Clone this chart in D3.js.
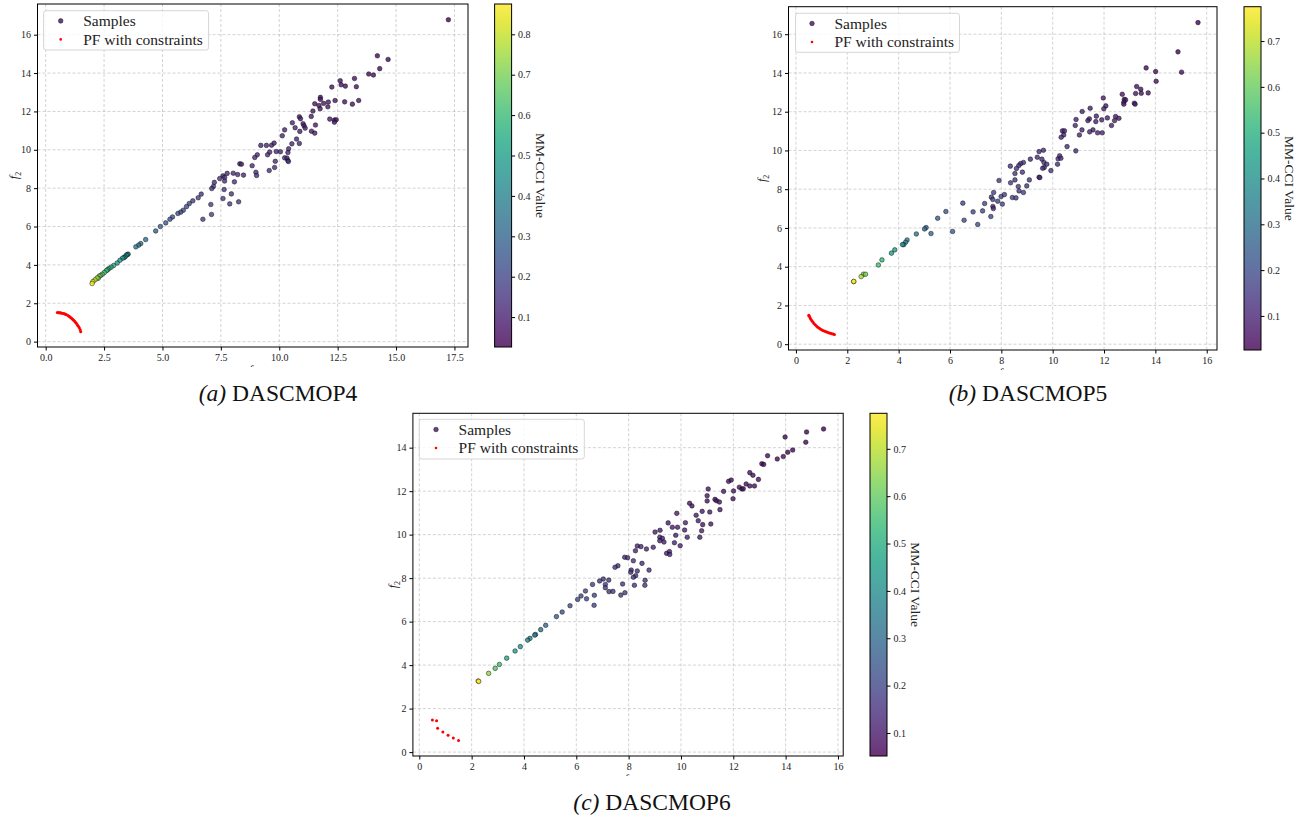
<!DOCTYPE html>
<html>
<head>
<meta charset="utf-8">
<script src="https://cdn.jsdelivr.net/npm/d3@7"></script>
<style>body{margin:0;background:#fff}</style>
</head>
<body>
<script>
// ---- DASCMOP4 (a)
const aF1 = [17.24,14.2,14.66,14.30,13.83,14.03,13.22,12.61,12.65,12.83,13.30,12.25,13.40,13.13,12.80,12.39,12.10,11.76,11.76,11.52,11.70,11.90,12.08,11.75,11.44,11.37,12.16,12.36,12.44,12.36,10.86,10.91,10.56,11.02,11.06,11.11,10.68,11.55,10.88,11.38,11.52,10.23,10.13,10.74,10.54,10.86,9.21,9.45,9.67,9.78,9.59,9.50,9.87,10.05,10.40,10.37,10.23,10.33,10.37,10.39,9.06,8.95,9.83,8.31,8.38,8.84,9.57,9.80,9.0,9.03,8.47,8.22,8.03,7.77,7.59,7.66,7.45,7.66,8.08,7.22,7.18,7.11,7.64,6.66,6.53,7.95,7.59,7.07,7.88,8.26,7.10,6.73,6.30,6.15,6.03,5.89,5.78,5.66,5.43,5.32,5.14,4.91,4.71,4.28,4.07,3.98,3.86,3.53,3.49,3.45,3.40,3.35,3.29,3.18,3.06,2.91,2.80,2.71,2.65,2.60,2.51,2.42,2.35,2.29,2.25,2.20,2.11,2.02,1.99];
const aF2 = [16.78,14.9,14.71,14.23,13.95,13.9,13.72,13.6,13.39,13.32,13.29,13.27,12.57,12.38,12.50,12.57,12.49,12.73,12.63,12.4,12.31,12.42,12.24,12.14,12.02,11.74,11.6,11.55,11.57,11.44,11.72,11.62,11.41,11.36,11.25,11.13,11.15,11.29,10.96,10.97,10.87,11.04,10.73,10.56,10.31,10.33,10.23,10.23,10.24,10.35,9.88,9.74,9.91,9.90,10.05,9.86,9.58,9.57,9.44,9.39,9.74,9.60,9.40,9.27,9.25,9.17,8.92,9.08,8.83,8.66,8.68,8.71,8.78,8.77,8.64,8.56,8.50,8.37,8.33,8.30,8.09,7.98,7.93,7.69,7.50,7.70,7.46,7.15,7.18,7.29,6.63,6.38,7.34,7.20,7.04,6.85,6.75,6.68,6.50,6.38,6.19,6.0,5.77,5.32,5.11,5.03,4.94,4.56,4.54,4.50,4.42,4.38,4.35,4.24,4.10,3.97,3.88,3.81,3.75,3.70,3.60,3.51,3.45,3.41,3.30,3.32,3.22,3.13,3.03];
const aCci = [0.026,0.04,0.04,0.05,0.05,0.05,0.06,0.06,0.06,0.06,0.06,0.07,0.07,0.07,0.07,0.07,0.08,0.06,0.07,0.07,0.08,0.08,0.08,0.07,0.08,0.09,0.09,0.08,0.08,0.09,0.09,0.09,0.10,0.09,0.09,0.10,0.10,0.09,0.10,0.09,0.10,0.11,0.11,0.11,0.12,0.11,0.11,0.11,0.10,0.10,0.12,0.12,0.12,0.12,0.11,0.12,0.13,0.13,0.13,0.13,0.12,0.12,0.13,0.10,0.10,0.13,0.14,0.13,0.14,0.14,0.12,0.13,0.13,0.12,0.13,0.13,0.14,0.14,0.15,0.15,0.16,0.16,0.16,0.17,0.18,0.17,0.17,0.18,0.18,0.17,0.19,0.20,0.19,0.20,0.21,0.22,0.22,0.23,0.24,0.25,0.26,0.27,0.29,0.33,0.35,0.36,0.37,0.41,0.42,0.43,0.44,0.45,0.46,0.48,0.50,0.53,0.55,0.57,0.58,0.60,0.63,0.66,0.68,0.70,0.72,0.75,0.78,0.82,0.86];
const aPfF1 = [0.50,0.54,0.58,0.62,0.66,0.70,0.76,0.80,0.84,0.88,0.95,1.00,1.04,1.08,1.12,1.16,1.20,1.24,1.28,1.32,1.36,1.40,1.44,1.48,1.50];
const aPfF2 = [1.52,1.51,1.50,1.50,1.49,1.48,1.47,1.45,1.43,1.41,1.36,1.32,1.29,1.25,1.21,1.16,1.11,1.06,1.00,0.94,0.87,0.80,0.72,0.62,0.52];

// ---- DASCMOP5 (b)
const bF1 = [15.66,14.88,15.02,13.64,14.01,14.03,13.72,13.27,13.43,13.45,13.23,12.71,12.79,12.84,12.77,12.77,13.18,13.21,11.97,12.07,11.99,11.15,11.46,10.91,11.43,11.70,11.68,11.91,12.13,12.45,12.58,12.41,12.29,11.37,11.57,11.44,11.75,11.93,11.14,11.04,10.88,10.38,10.46,10.43,10.33,10.56,10.90,9.64,9.47,9.40,9.58,9.66,9.77,9.93,9.67,9.61,10.21,10.27,10.32,10.19,9.13,8.86,8.75,8.68,8.35,8.59,8.53,8.82,9.09,9.47,9.50,8.36,8.53,7.91,8.66,8.69,8.86,8.99,7.70,7.61,7.67,7.86,7.99,8.12,8.43,8.57,8.04,7.67,7.69,7.35,7.27,6.90,6.50,5.84,7.59,7.08,6.55,5.52,6.10,5.07,5.01,5.26,4.69,4.33,4.27,4.20,4.15,3.85,3.72,3.35,3.21,2.63,2.71,2.54,2.25,2.25];
const bF2 = [16.60,15.09,14.04,14.26,14.07,13.57,12.97,13.30,13.16,12.95,12.94,12.90,12.64,12.61,12.49,12.39,12.44,12.39,12.71,12.30,12.15,12.01,12.18,11.60,11.63,11.77,11.49,11.58,11.68,11.75,11.66,11.54,11.29,11.54,11.06,10.96,10.91,10.91,11.06,10.80,11.29,11.01,11.01,10.80,10.68,10.20,9.98,10.01,9.94,9.65,9.55,9.38,9.29,8.96,9.12,9.08,9.57,9.72,9.60,9.29,9.55,9.38,9.32,9.22,9.19,9.07,8.81,8.88,8.48,8.62,8.60,8.33,8.48,8.45,8.14,7.91,7.83,8.17,7.83,7.59,7.47,7.38,7.62,7.72,7.57,7.55,7.23,7.11,7.00,7.26,6.88,6.83,7.28,6.85,6.59,6.18,6.40,6.50,5.82,6.02,5.95,5.71,5.69,5.38,5.26,5.14,5.14,4.87,4.70,4.35,4.09,3.61,3.61,3.49,3.23,3.24];
const bCci = [0.03,0.04,0.05,0.05,0.05,0.06,0.07,0.06,0.06,0.07,0.07,0.07,0.07,0.07,0.08,0.08,0.08,0.08,0.08,0.08,0.09,0.09,0.09,0.09,0.09,0.09,0.09,0.09,0.09,0.08,0.08,0.09,0.09,0.09,0.10,0.10,0.10,0.10,0.10,0.10,0.10,0.10,0.10,0.11,0.11,0.12,0.12,0.11,0.12,0.12,0.12,0.13,0.13,0.13,0.12,0.12,0.12,0.12,0.12,0.13,0.13,0.13,0.13,0.13,0.14,0.14,0.14,0.14,0.15,0.10,0.10,0.15,0.15,0.15,0.15,0.16,0.16,0.15,0.17,0.17,0.17,0.17,0.17,0.16,0.17,0.17,0.18,0.10,0.10,0.18,0.19,0.19,0.19,0.23,0.19,0.20,0.21,0.25,0.24,0.28,0.28,0.28,0.32,0.36,0.37,0.38,0.38,0.43,0.45,0.52,0.54,0.62,0.62,0.68,0.775,0.77];
const bPfF1 = [0.50,0.52,0.55,0.58,0.62,0.66,0.70,0.75,0.80,0.85,0.90,0.95,1.00,1.05,1.10,1.15,1.20,1.25,1.30,1.35,1.40,1.45,1.50];
const bPfF2 = [1.50,1.44,1.36,1.29,1.21,1.14,1.07,1.00,0.94,0.88,0.83,0.79,0.75,0.71,0.68,0.65,0.63,0.60,0.58,0.56,0.54,0.52,0.50];

// ---- DASCMOP6 (c)
const cF1 = [15.45,14.80,13.98,14.77,14.27,14.08,13.91,13.68,13.31,13.09,13.16,12.96,12.63,12.75,12.49,12.63,12.81,12.23,12.33,12.38,12.01,11.63,11.82,11.92,11.99,11.04,11.00,11.00,11.30,11.36,11.47,11.49,11.10,11.14,10.81,10.33,10.42,10.58,10.66,10.83,10.79,10.72,10.24,10.14,10.17,9.84,9.87,9.80,9.67,9.51,9.75,9.97,9.20,9.01,9.19,9.29,9.19,9.35,8.94,8.68,8.33,8.47,8.26,9.45,9.56,9.57,8.51,8.18,7.85,7.96,7.59,7.48,8.10,8.33,8.08,8.78,8.27,8.18,8.63,8.22,8.62,7.77,7.86,7.70,7.24,7.03,6.89,7.11,7.11,7.25,7.40,6.62,6.35,6.39,6.69,6.18,6.05,6.68,5.76,5.46,5.24,4.83,4.64,4.44,4.41,4.23,4.14,3.86,3.66,3.34,3.06,2.90,2.65,2.25,2.27];
const cF2 = [14.86,14.72,14.49,14.25,13.89,13.79,13.59,13.48,13.63,13.26,13.23,12.54,12.85,12.73,12.33,12.24,12.24,12.18,12.10,12.11,12.01,11.99,12.45,12.51,11.65,12.10,11.79,11.55,11.62,11.56,11.50,11.15,11.04,10.49,11.07,11.44,11.32,10.89,10.64,10.46,10.18,9.88,9.88,10.21,10.55,10.98,10.34,9.97,10.34,10.54,9.63,9.49,10.20,10.12,9.88,9.83,9.72,9.66,9.42,9.34,9.48,9.45,9.26,9.14,9.22,9.09,8.68,8.80,8.96,8.94,8.57,8.50,8.37,8.33,8.27,8.37,8.11,8.04,7.90,7.67,7.67,7.73,7.33,7.22,7.91,7.96,7.87,7.71,7.56,7.38,7.39,7.71,7.41,7.05,7.21,7.18,7.02,6.75,6.73,6.44,6.23,5.83,5.63,5.41,5.38,5.23,5.15,4.85,4.65,4.32,4.03,3.85,3.62,3.27,3.25];
const cCci = [0.052,0.055,0.06,0.06,0.06,0.06,0.07,0.07,0.07,0.07,0.07,0.08,0.08,0.08,0.08,0.08,0.08,0.08,0.08,0.08,0.09,0.09,0.08,0.08,0.09,0.09,0.09,0.09,0.09,0.09,0.09,0.10,0.10,0.10,0.10,0.09,0.09,0.10,0.10,0.09,0.11,0.11,0.11,0.11,0.11,0.11,0.11,0.11,0.11,0.11,0.12,0.12,0.11,0.12,0.12,0.12,0.12,0.12,0.13,0.13,0.12,0.12,0.12,0.13,0.13,0.13,0.14,0.14,0.14,0.14,0.15,0.15,0.15,0.15,0.15,0.15,0.15,0.15,0.16,0.16,0.16,0.16,0.17,0.17,0.16,0.15,0.16,0.17,0.17,0.17,0.17,0.18,0.19,0.19,0.19,0.20,0.20,0.20,0.22,0.24,0.26,0.30,0.32,0.35,0.35,0.37,0.38,0.42,0.45,0.50,0.55,0.58,0.65,0.775,0.77];
const cPfF1 = [0.50,0.66,0.70,0.90,1.10,1.30,1.50];
const cPfF2 = [1.48,1.44,1.10,0.92,0.77,0.65,0.53];

// tick values
const ticksA_x = [0, 2.5, 5, 7.5, 10, 12.5, 15, 17.5];
const ticks16 = [0, 2, 4, 6, 8, 10, 12, 14, 16];
const ticks14 = [0, 2, 4, 6, 8, 10, 12, 14];
const cbTicks8 = [0.1, 0.2, 0.3, 0.4, 0.5, 0.6, 0.7, 0.8];
const cbTicks7 = [0.1, 0.2, 0.3, 0.4, 0.5, 0.6, 0.7];

const svg = d3.select("body").append("svg")
    .attr("width", 1309)
    .attr("height", 820)
    .style("font-family", "'Liberation Serif', serif");

const zip = (xs, ys, cs) => xs.map((v, i) => ({ f1: v, f2: ys[i], c: cs ? cs[i] : 0 }));

function styleTicks(s) {
    s.select(".domain").remove();
    s.selectAll("text").attr("font-size", 10).attr("fill", "#222").attr("font-family", "'Liberation Serif', serif");
}

function drawPanel(p, id) {
    let x = d3.scaleLinear().domain(p.xdom).range([p.left, p.right]);
    let y = d3.scaleLinear().domain(p.ydom).range([p.bottom, p.top]);
    let cnorm = d3.scaleLinear().domain(p.cbdom).range([0, 1]).clamp(true);
    let g = svg.append("g");

    // grid
    g.append("g").selectAll("line").data(p.xticks).join("line")
        .attr("x1", d => x(d)).attr("x2", d => x(d))
        .attr("y1", p.top).attr("y2", p.bottom)
        .attr("stroke", "#b0b0b0").attr("stroke-opacity", 0.7)
        .attr("stroke-width", 0.8).attr("stroke-dasharray", "3,2");
    g.append("g").selectAll("line").data(p.yticks).join("line")
        .attr("y1", d => y(d)).attr("y2", d => y(d))
        .attr("x1", p.left).attr("x2", p.right)
        .attr("stroke", "#b0b0b0").attr("stroke-opacity", 0.7)
        .attr("stroke-width", 0.8).attr("stroke-dasharray", "3,2");

    // samples
    g.append("g").selectAll("circle").data(p.samples).join("circle")
        .attr("cx", d => x(d.f1)).attr("cy", d => y(d.f2))
        .attr("r", 2.3)
        .attr("fill", d => d3.interpolateViridis(cnorm(d.c)))
        .attr("fill-opacity", 0.8)
        .attr("stroke", "#000").attr("stroke-opacity", 0.75)
        .attr("stroke-width", 0.6);

    // pareto front
    g.append("g").selectAll("circle").data(p.pf).join("circle")
        .attr("cx", d => x(d.f1)).attr("cy", d => y(d.f2))
        .attr("r", 1.5).attr("fill", "red");

    // frame
    g.append("rect")
        .attr("x", p.left).attr("y", p.top)
        .attr("width", p.right - p.left).attr("height", p.bottom - p.top)
        .attr("fill", "none").attr("stroke", "#000").attr("stroke-width", 1);

    // axes
    g.append("g")
        .attr("transform", "translate(0," + p.bottom + ")")
        .call(d3.axisBottom(x).tickValues(p.xticks).tickFormat(d3.format(p.xfmt)).tickSizeOuter(0).tickSize(3.5).tickPadding(3))
        .call(styleTicks);
    g.append("g")
        .attr("transform", "translate(" + p.left + ",0)")
        .call(d3.axisLeft(y).tickValues(p.yticks).tickFormat(d3.format("d")).tickSizeOuter(0).tickSize(3.5).tickPadding(3))
        .call(styleTicks);

    // y label f2
    let yl = g.append("text")
        .attr("transform", "translate(" + p.ylabX + "," + ((p.top + p.bottom) / 2) + ") rotate(-90)")
        .attr("text-anchor", "middle").attr("dy", "0.35em")
        .attr("font-size", 12).attr("fill", "#222");
    yl.append("tspan").attr("font-style", "italic").text("f");
    yl.append("tspan").attr("font-size", 8).attr("dy", 3).text("2");

    // x label f1, mostly hidden under the caption
    let clip = svg.append("clipPath").attr("id", "clip" + id);
    clip.append("rect").attr("x", 0).attr("y", 0).attr("width", 1309).attr("height", p.bottom + 20);
    let xl = g.append("text")
        .attr("clip-path", "url(#clip" + id + ")")
        .attr("x", (p.left + p.right) / 2).attr("y", p.bottom + 27)
        .attr("text-anchor", "middle")
        .attr("font-size", 12).attr("fill", "#222");
    xl.append("tspan").attr("font-style", "italic").text("f");
    xl.append("tspan").attr("font-size", 8).attr("dy", 3).text("1");

    // colorbar
    let cy = d3.scaleLinear().domain(p.cbdom).range([p.bottom, p.top]);
    let gradId = "grad" + id;
    let grad = svg.append("defs").append("linearGradient")
        .attr("id", gradId).attr("x1", 0).attr("x2", 0).attr("y1", 1).attr("y2", 0);
    d3.range(0, 1.0001, 0.05).forEach(t => {
        grad.append("stop").attr("offset", t).attr("stop-color", d3.interpolateViridis(t));
    });
    g.append("rect")
        .attr("x", p.cbx).attr("y", p.top)
        .attr("width", p.cbw).attr("height", p.bottom - p.top)
        .attr("fill", "url(#" + gradId + ")").attr("fill-opacity", 0.8);
    g.append("rect")
        .attr("x", p.cbx).attr("y", p.top)
        .attr("width", p.cbw).attr("height", p.bottom - p.top)
        .attr("fill", "none").attr("stroke", "#000").attr("stroke-width", 1);
    g.append("g")
        .attr("transform", "translate(" + (p.cbx + p.cbw) + ",0)")
        .call(d3.axisRight(cy).tickValues(p.cbticks).tickFormat(d3.format(".1f")).tickSizeOuter(0).tickSize(3.5).tickPadding(3))
        .call(styleTicks);
    g.append("text")
        .attr("transform", "translate(" + p.cbLabX + "," + ((p.top + p.bottom) / 2) + ") rotate(90)")
        .attr("text-anchor", "middle").attr("dy", "0.35em")
        .attr("font-size", 13.5).attr("fill", "#222")
        .text("MM-CCI Value");

    // legend
    let L = p.legend;
    let lg = g.append("g");
    lg.append("rect")
        .attr("x", L.x).attr("y", L.y).attr("width", L.w).attr("height", L.h)
        .attr("rx", 2.5).attr("fill", "#fff").attr("fill-opacity", 0.8)
        .attr("stroke", "#d6d6d6").attr("stroke-width", 1);
    lg.append("circle")
        .attr("cx", L.mx).attr("cy", L.y + 10.2).attr("r", 2.3)
        .attr("fill", d3.interpolateViridis(0.05)).attr("fill-opacity", 0.8)
        .attr("stroke", "#000").attr("stroke-opacity", 0.75).attr("stroke-width", 0.6);
    lg.append("circle")
        .attr("cx", L.mx).attr("cy", L.y + 28.7).attr("r", 1.3).attr("fill", "red");
    lg.append("text").attr("x", L.tx).attr("y", L.y + 10.2).attr("dy", "0.35em")
        .attr("font-size", L.fs).attr("fill", "#222").text("Samples");
    lg.append("text").attr("x", L.tx).attr("y", L.y + 28.7).attr("dy", "0.35em")
        .attr("font-size", L.fs).attr("fill", "#222").text("PF with constraints");

    // caption
    let cap = svg.append("text")
        .attr("x", p.capX).attr("y", p.capY)
        .attr("text-anchor", "middle")
        .attr("font-size", 23.5).attr("fill", "#111");
    cap.append("tspan").attr("font-style", "italic").text(p.tag);
    cap.append("tspan").text(" " + p.name);
}

drawPanel({
    left: 37.5, right: 468, top: 4, bottom: 347,
    xdom: [-0.35, 18.08], ydom: [-0.28, 17.6],
    xticks: ticksA_x, xfmt: ".1f", yticks: ticks16,
    samples: zip(aF1, aF2, aCci), pf: zip(aPfF1, aPfF2),
    cbdom: [0.026, 0.875], cbticks: cbTicks8, cbx: 494.6, cbw: 17, cbLabX: 541,
    ylabX: 14,
    legend: { x: 43.6, y: 10.7, w: 165, h: 39.3, mx: 60.7, tx: 83.2, fs: 15.5 },
    capX: 278, capY: 401, tag: "(a)", name: "DASCMOP4"
}, "a");

drawPanel({
    left: 788.5, right: 1217, top: 6.7, bottom: 350,
    xdom: [-0.29, 16.4], ydom: [-0.3, 17.42],
    xticks: ticks16, xfmt: "d", yticks: ticks16,
    samples: zip(bF1, bF2, bCci), pf: zip(bPfF1, bPfF2),
    cbdom: [0.0256, 0.775], cbticks: cbTicks7, cbx: 1244, cbw: 17, cbLabX: 1290,
    ylabX: 762,
    legend: { x: 795.5, y: 13.3, w: 164, h: 39, mx: 812, tx: 834.4, fs: 15.5 },
    capX: 1028, capY: 401, tag: "(b)", name: "DASCMOP5"
}, "b");

drawPanel({
    left: 412.9, right: 843.2, top: 413.3, bottom: 756,
    xdom: [-0.245, 16.2], ydom: [-0.18, 15.58],
    xticks: ticks16, xfmt: "d", yticks: ticks14,
    samples: zip(cF1, cF2, cCci), pf: zip(cPfF1, cPfF2),
    cbdom: [0.0514, 0.775], cbticks: cbTicks7, cbx: 870, cbw: 17, cbLabX: 915.7,
    ylabX: 392.5,
    legend: { x: 419.3, y: 419.3, w: 165, h: 39.7, mx: 436, tx: 458.6, fs: 15.5 },
    capX: 652, capY: 810, tag: "(c)", name: "DASCMOP6"
}, "c");
</script>
</body>
</html>
